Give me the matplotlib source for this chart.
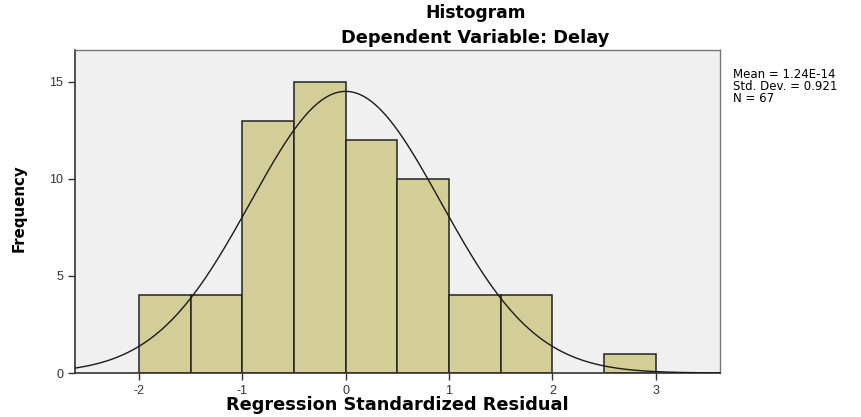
import numpy as np
import matplotlib
matplotlib.use('Agg')
import matplotlib.pyplot as plt

plt.rcParams['font.family'] = ['Liberation Sans', 'DejaVu Sans']
plt.rcParams['axes.unicode_minus'] = False

# histogram bins (edges, width 0.5) and counts
bin_edges = [-2.0, -1.5, -1.0, -0.5, 0.0, 0.5, 1.0, 1.5, 2.0, 2.5, 3.0]
counts = [4, 4, 13, 15, 12, 10, 4, 4, 0, 1]
mean = 1.24e-14
std = 0.921
n = 67
x_ticks = [-2, -1, 0, 1, 2, 3]
y_ticks = [0, 5, 10, 15]

fig = plt.figure(figsize=(8.61, 4.17), dpi=100)
ax = fig.add_axes([0.087, 0.1055, 0.749, 0.775])
ax.set_facecolor('#f0f0f0')

lefts = bin_edges[:-1]
widths = np.diff(bin_edges)
for l, w, c in zip(lefts, widths, counts):
    if c > 0:
        ax.bar(l, c, width=w, align='edge', color='#d3ce97',
               edgecolor='#222222', linewidth=1.1, zorder=2)

# normal curve scaled to counts
xs = np.linspace(-2.62, 3.62, 400)
bw = widths[0]
ys = n * bw / (std * np.sqrt(2 * np.pi)) * np.exp(-0.5 * ((xs - mean) / std) ** 2)
ax.plot(xs, ys, color='#1a1a1a', linewidth=1.0, zorder=3)

ax.set_xlim(-2.62, 3.62)
ax.set_ylim(0, 16.65)
ax.set_xticks(x_ticks)
ax.set_yticks(y_ticks)
ax.tick_params(axis='both', direction='out', length=5, width=1, labelsize=9,
               colors='#333333')

for s in ['left', 'bottom']:
    ax.spines[s].set_color('#333333')
    ax.spines[s].set_linewidth(1.2)
for s in ['top', 'right']:
    ax.spines[s].set_color('#777777')
    ax.spines[s].set_linewidth(1.0)

bold = dict(fontweight='bold', family='DejaVu Sans', ha='center', va='center')
fig.text(0.462, 0.029, 'Regression Standardized Residual', fontsize=12.8, **bold)
fig.text(0.552, 0.97, 'Histogram', fontsize=12.3, **bold)
fig.text(0.552, 0.908, 'Dependent Variable: Delay', fontsize=12.8, **bold)
fig.text(0.022, 0.5, 'Frequency', rotation=90, fontsize=10.8, fontweight='bold',
         ha='center', va='center', family='Liberation Sans Narrow')

fig.text(0.851, 0.838, 'Mean = 1.24E-14\nStd. Dev. = 0.921\nN = 67', fontsize=8.5,
         family='DejaVu Sans', ha='left', va='top', linespacing=0.9)

plt.savefig('out.png', dpi=100)
